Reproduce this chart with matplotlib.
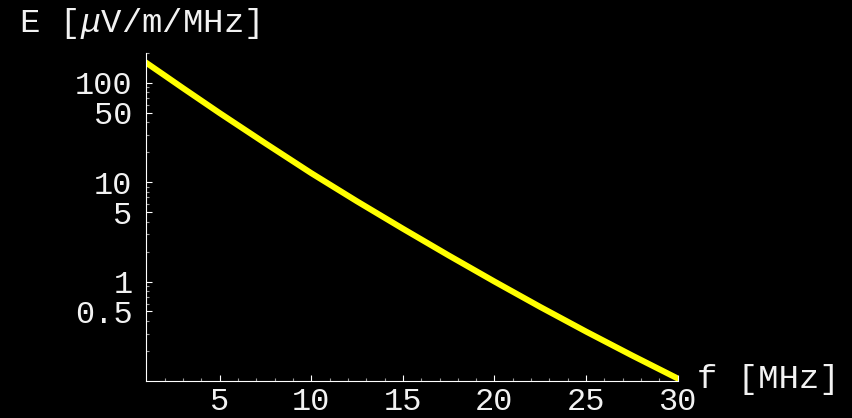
import numpy as np
import matplotlib
matplotlib.use("Agg")
import matplotlib.pyplot as plt
from matplotlib.ticker import FixedLocator, NullFormatter, FixedFormatter

# Data
freq_mhz = [1, 2, 3, 5, 7.5, 10, 12.5, 15, 17.5, 20, 22.5, 25, 27.5, 30]
field_uv = [158, 118, 88, 49.4, 24.5, 12.3, 6.4, 3.4, 1.83, 1.0, 0.555, 0.314, 0.181, 0.106]

x_major = [5, 10, 15, 20, 25, 30]
x_major_labels = ["5", "10", "15", "20", "25", "30"]
y_major = [0.5, 1, 5, 10, 50, 100]
y_major_labels = ["0.5", "1", "5", "10", "50", "100"]

FONT = 'Liberation Mono'
TEXT_COLOR = '#f2f2f2'
plt.rcParams['mathtext.fontset'] = 'custom'
plt.rcParams['mathtext.it'] = 'Liberation Mono:italic'
plt.rcParams['mathtext.rm'] = 'Liberation Mono'

fig = plt.figure(figsize=(8.52, 4.18), dpi=100, facecolor='black')
ax = fig.add_axes([146.4 / 852, 1 - 381 / 418, 531.3 / 852, 328.3 / 418])
ax.set_facecolor('black')

ax.plot(freq_mhz, field_uv, color='#ffff00', lw=4.3, solid_capstyle='projecting',
        solid_joinstyle='round', clip_on=True)

ax.set_yscale('log')
ax.set_xlim(1, 30)
ax.set_ylim(0.1, 200)

for s in ['top', 'right']:
    ax.spines[s].set_visible(False)
for s in ['left', 'bottom']:
    ax.spines[s].set_color('white')
    ax.spines[s].set_linewidth(0.8)

ax.xaxis.set_major_locator(FixedLocator(x_major))
ax.xaxis.set_major_formatter(FixedFormatter(x_major_labels))
x_minor = [v for v in range(2, 30) if v not in x_major]
ax.xaxis.set_minor_locator(FixedLocator(x_minor))
ax.xaxis.set_minor_formatter(NullFormatter())

ax.yaxis.set_major_locator(FixedLocator(y_major))
ax.yaxis.set_major_formatter(FixedFormatter(y_major_labels))
y_minor = []
for dec in [0.1, 1, 10, 100]:
    for m in range(1, 10):
        v = dec * m
        if 0.1 < v <= 200.0001 and not any(abs(v - t) < 1e-9 for t in y_major):
            y_minor.append(v)
ax.yaxis.set_minor_locator(FixedLocator(y_minor))
ax.yaxis.set_minor_formatter(NullFormatter())

ax.tick_params(axis='both', which='major', direction='in', length=4, width=0.8,
               color='white', labelcolor=TEXT_COLOR)
ax.tick_params(axis='both', which='minor', direction='in', length=2.5, width=0.8,
               color='#9a9a9a')
ax.tick_params(axis='y', which='major', pad=10)
ax.tick_params(axis='x', which='major', pad=4)
for lab in ax.get_xticklabels() + ax.get_yticklabels():
    lab.set_fontfamily(FONT)
    lab.set_fontsize(23)

label_font = dict(family=FONT, size=24.5, color=TEXT_COLOR)
fig.text(19 / 852, 1 - 32 / 418, r"E [$\mu$V/m/MHz]", ha='left', va='baseline', **label_font)
fig.text(697 / 852, 1 - 388 / 418, "f [MHz]", ha='left', va='baseline', **label_font)

fig.savefig("out.png", dpi=100, facecolor='black')
